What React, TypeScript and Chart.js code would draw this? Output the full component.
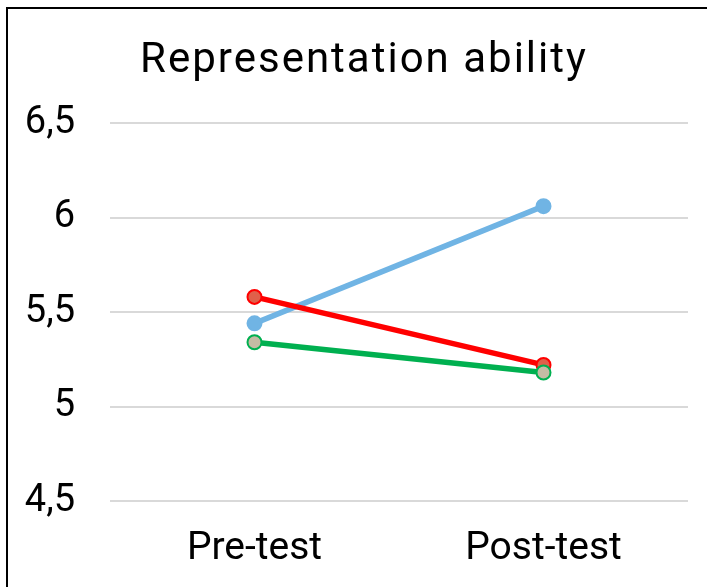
import React, { useEffect, useRef } from "react";
import { Chart, registerables } from "chart.js";

Chart.register(...registerables);

const title = "Representation ability";
const categories = ["Pre-test", "Post-test"];
const seriesBlue = [5.44, 6.06];
const seriesRed = [5.58, 5.22];
const seriesGreen = [5.34, 5.18];
const yTickValues = [4.5, 5, 5.5, 6, 6.5];
const yTickLabels = ["4,5", "5", "5,5", "6", "6,5"];

const FONT = "Roboto, 'Liberation Sans', Arial, sans-serif";

const framePlugin = {
  id: "frameAndTitle",
  beforeDraw(chart: any) {
    const ctx = chart.ctx;
    ctx.save();
    ctx.fillStyle = "#ffffff";
    ctx.fillRect(0, 0, chart.width, chart.height);
    ctx.fillStyle = "#000000";
    ctx.fillRect(6, 7, chart.width - 6, 2);
    ctx.fillRect(6, 7, 2, chart.height - 7);
    ctx.restore();
  },
  afterDraw(chart: any) {
    const ctx = chart.ctx;
    ctx.save();
    ctx.font = `42px ${FONT}`;
    try {
      (ctx as any).letterSpacing = "2px";
    } catch (e) {}
    ctx.fillStyle = "#000000";
    ctx.textAlign = "center";
    ctx.textBaseline = "alphabetic";
    ctx.fillText(title, 364, 72);
    ctx.restore();
  },
};

export default function App() {
  const ref = useRef<HTMLCanvasElement | null>(null);
  useEffect(() => {
    if (!ref.current) return;
    const chart = new Chart(ref.current, {
      type: "line",
      data: {
        labels: categories,
        datasets: [
          {
            label: "Series 3",
            data: seriesGreen,
            borderColor: "#00b050",
            backgroundColor: "#c4bca4",
            pointBackgroundColor: "#c4bca4",
            pointBorderColor: "#00b050",
            pointBorderWidth: 2,
            pointRadius: 7,
            borderWidth: 5.5,
            tension: 0,
          },
          {
            label: "Series 2",
            data: seriesRed,
            borderColor: "#ff0000",
            backgroundColor: "#e0604a",
            pointBackgroundColor: "#e0604a",
            pointBorderColor: "#ff0000",
            pointBorderWidth: 2,
            pointRadius: 7,
            borderWidth: 5.5,
            tension: 0,
          },
          {
            label: "Series 1",
            data: seriesBlue,
            borderColor: "#70b4e4",
            backgroundColor: "#70b4e4",
            pointBackgroundColor: "#70b4e4",
            pointBorderColor: "#70b4e4",
            pointBorderWidth: 2,
            pointRadius: 7,
            borderWidth: 5.5,
            tension: 0,
          },
        ],
      },
      options: {
        responsive: false,
        animation: false,
        layout: { padding: { left: 0, right: 19, top: 123, bottom: 0 } },
        plugins: {
          legend: { display: false },
          title: { display: false },
          tooltip: { enabled: false },
        },
        scales: {
          x: {
            offset: true,
            grid: { display: false, drawTicks: false },
            border: { display: false },
            ticks: {
              color: "#000000",
              font: { family: FONT, size: 39 },
              padding: 25,
            },
            afterFit: (scale: any) => {
              scale.height = 86;
            },
          },
          y: {
            min: 4.5,
            max: 6.5,
            afterBuildTicks: (scale: any) => {
              scale.ticks = yTickValues.map((v) => ({ value: v }));
            },
            grid: { color: "#d9d9d9", lineWidth: 2, drawTicks: false },
            border: { display: false },
            ticks: {
              color: "#000000",
              font: { family: FONT, size: 38 },
              padding: 35,
              callback: (_v: any, i: number) => yTickLabels[i],
            },
            afterFit: (scale: any) => {
              scale.width = 110;
            },
          },
        },
      },
      plugins: [framePlugin],
    });
    return () => chart.destroy();
  }, []);
  return (
    <div style={{ position: "fixed", left: 0, top: 0, width: 707, height: 587, overflow: "hidden", background: "#fff" }}>
      <canvas ref={ref} width={707} height={587} style={{ position: "absolute", left: 0, top: 0, width: 707, height: 587 }} />
    </div>
  );
}
